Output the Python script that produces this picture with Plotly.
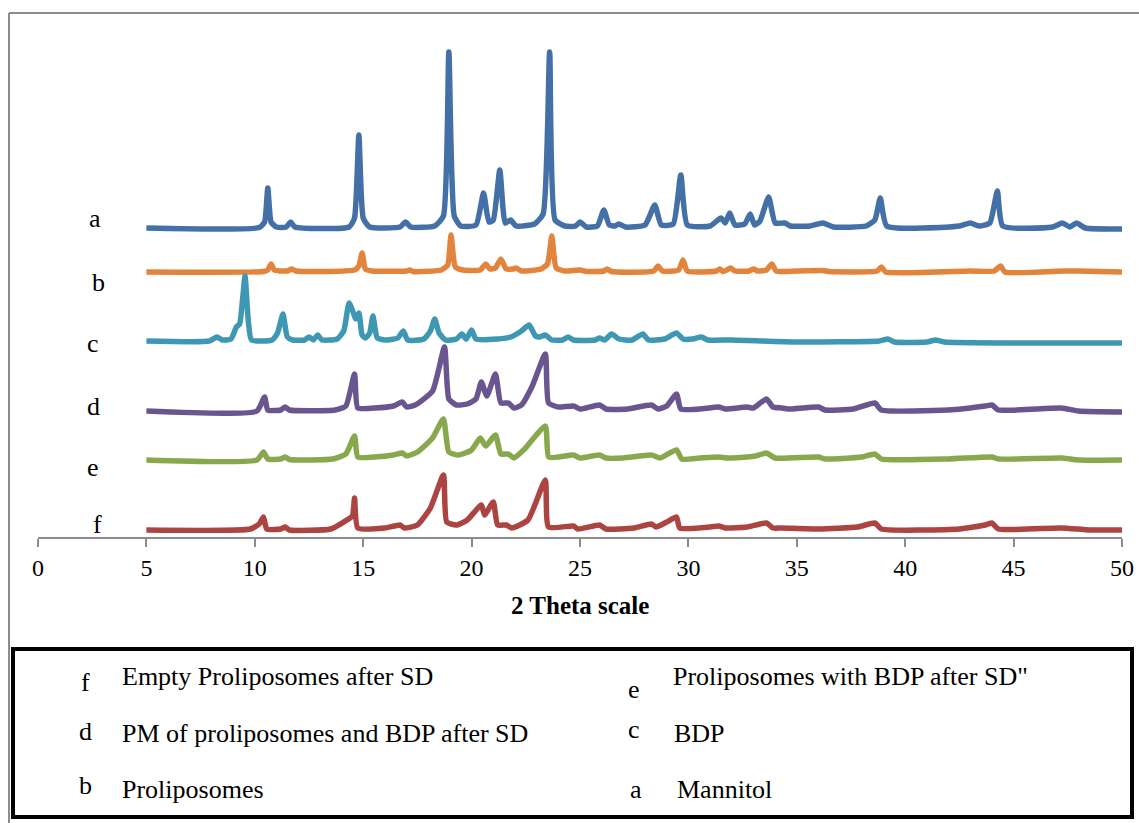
import plotly.graph_objects as go

# ---- XRD patterns: 2-theta positions and relative intensities ----
a_x = [5.0, 10.2, 10.45, 10.6, 10.75, 11.0, 11.45, 11.65, 11.85, 14.35, 14.6, 14.8, 15.0, 15.3, 16.7, 16.95, 17.2,
       18.3, 18.7, 18.95, 19.2, 19.5, 20.2, 20.55, 20.8, 21.0, 21.3, 21.55, 21.8, 22.05, 22.9, 23.3, 23.6, 23.85,
       24.3, 24.8, 25.0, 25.3, 25.8, 26.1, 26.35, 26.6, 26.8, 27.1, 28.0, 28.45, 28.75, 29.3, 29.65, 29.95, 31.0,
       31.5, 31.7, 31.9, 32.15, 32.6, 32.85, 33.05, 33.3, 33.7, 34.0, 34.45, 34.7, 35.6, 36.2, 36.7, 38.2, 38.6,
       38.85, 39.15, 42.5, 43.0, 43.4, 43.9, 44.25, 44.5, 46.8, 47.25, 47.6, 47.9, 48.3, 50.0]
a_y = [0, 0.5, 6, 40, 6, 1, 1, 6, 1, 1, 10, 93, 10, 1, 1, 6, 1,
       2, 12, 176, 12, 2, 3, 35, 6, 8, 58, 5, 8, 2, 4, 14, 176, 8,
       2, 2, 6, 1, 2, 18, 3, 2, 4, 1, 3, 23, 3, 4, 53, 3, 2,
       10, 5, 15, 3, 4, 14, 3, 7, 31, 5, 5, 2, 2, 5, 1, 2, 8,
       30, 2, 2, 5, 2, 5, 37, 2, 1, 5, 1, 5, 0, -1]

b_x = [5.0, 10.4, 10.6, 10.75, 10.9, 11.5, 11.7, 11.9, 14.6, 14.8, 14.95, 15.1, 15.4, 17.0, 17.15, 17.3, 18.6, 18.9,
       19.05, 19.25, 19.6, 20.4, 20.65, 20.85, 21.1, 21.35, 21.6, 21.9, 22.05, 22.3, 23.2, 23.5, 23.7, 23.9, 24.3,
       25.0, 25.3, 26.1, 26.25, 26.45, 28.4, 28.6, 28.8, 29.55, 29.75, 29.95, 31.3, 31.45, 31.6, 31.95, 32.15, 32.8,
       33.0, 33.2, 33.6, 33.85, 34.05, 35.0, 36.2, 36.5, 38.7, 38.9, 39.1, 43.0, 44.1, 44.4, 44.6, 47.3, 48.0, 50.0]
b_y = [0, 0.5, 2, 8, 2, 1, 3, 1, 2, 6, 19, 3, 1, 1, 2, 0.5, 2, 7,
       37, 5, 2, 2, 8, 3, 4, 13, 3, 3, 4, 1, 3, 8, 36, 4, 1,
       2, 0.5, 1, 3, 0.5, 1, 6, 1, 2, 12, 1, 1, 3, 0.5, 4, 1, 1,
       3, 1, 2, 8, 1, 1, 1.5, 0.5, 1, 5, 0, 1, 1, 6, 0, 1, 1, 0]

c_x = [5.0, 7.9, 8.25, 8.5, 8.9, 9.15, 9.3, 9.45, 9.55, 9.7, 9.85, 10.8, 11.05, 11.3, 11.5, 11.75, 12.3, 12.5,
       12.7, 12.9, 13.1, 13.8, 14.1, 14.35, 14.55, 14.65, 14.8, 14.95, 15.1, 15.3, 15.45, 15.65, 16.1, 16.6,
       16.85, 17.05, 17.8, 18.1, 18.3, 18.5, 18.8, 19.3, 19.55, 19.75, 20.0, 20.2, 21.2, 21.8, 22.3, 22.65,
       22.95, 23.15, 23.4, 23.7, 24.2, 24.45, 24.7, 25.7, 25.9, 26.15, 26.45, 26.8, 27.4, 27.9, 28.15, 28.9,
       29.45, 29.75, 30.2, 30.6, 30.9, 32.0, 35.0, 38.8, 39.2, 39.5, 41.0, 41.4, 41.8, 45.0, 50.0]
c_y = [0, 0, 4, 1, 2, 14, 17, 45, 65, 20, 1, 1, 8, 27, 4, 1, 1, 4,
       1, 6, 1, 2, 10, 38, 28, 22, 28, 6, 3, 8, 25, 3, 1, 3,
       10, 1, 2, 10, 22, 8, 1, 2, 7, 2, 11, 2, 2, 4, 10, 16,
       5, 4, 6, 1, 1, 4, 1, 1, 3, 1, 7, 2, 1, 7, 1, 2,
       8, 2, 2, 4, 1, 1, -1, 0, 2, -1, -1, 1, -1, -2, -2]

d_x = [5.0, 10.1, 10.45, 10.6, 11.2, 11.4, 11.6, 13.7, 14.2, 14.6, 14.75, 15.5, 16.4, 16.8, 17.0, 17.4, 18.2,
       18.75, 18.95, 19.3, 19.8, 20.2, 20.45, 20.7, 21.1, 21.35, 21.7, 21.95, 22.3, 22.8, 23.4, 23.55, 24.0,
       24.7, 25.0, 25.9, 26.2, 27.2, 28.3, 28.6, 29.0, 29.45, 29.65, 30.5, 31.4, 31.7, 32.7, 33.0, 33.6, 33.9,
       34.3, 34.6, 36.0, 36.3, 37.6, 38.6, 38.9, 42.0, 43.7, 44.0, 44.3, 47.2, 48.0, 50.0]
d_y = [0, 0, 14, 1, 1, 4, 1, 1, 5, 37, 3, 3, 5, 9, 4, 6, 20,
       64, 12, 6, 7, 12, 29, 15, 37, 8, 8, 3, 6, 25, 57, 8, 4,
       5, 2, 6, 2, 2, 6, 2, 5, 17, 2, 2, 4, 2, 4, 3, 12, 4,
       3, 2, 4, 1, 2, 8, 1, 1, 5, 6, 1, 3, 0, -1]

e_x = [5.0, 10.1, 10.4, 10.6, 11.2, 11.4, 11.6, 13.6, 14.2, 14.6, 14.75, 15.5, 16.4, 16.8, 17.0, 17.5, 18.2,
       18.7, 18.95, 19.4, 20.0, 20.4, 20.65, 21.1, 21.35, 21.7, 21.95, 22.4, 23.4, 23.55, 24.0, 24.7, 25.0,
       25.9, 26.2, 27.0, 28.3, 28.7, 29.45, 29.7, 30.5, 31.4, 31.8, 32.7, 33.1, 33.6, 34.0, 36.0, 36.3, 38.0,
       38.6, 38.9, 42.0, 44.0, 44.3, 47.2, 48.0, 50.0]
e_y = [0, 0, 8, 1, 1, 3, 0.5, 1, 6, 24, 3, 3, 5, 7, 4, 8, 22,
       41, 8, 5, 10, 22, 14, 25, 6, 6, 2, 10, 34, 3, 3, 5, 2,
       5, 2, 2, 5, 2, 10, 1, 2, 3, 2, 3, 4, 7, 2, 3, 1, 3,
       6, 1, 1, 3, 1, 2, 0, 0]

f_x = [5.0, 9.8, 10.2, 10.4, 10.55, 11.2, 11.4, 11.6, 13.5, 14.1, 14.5, 14.6, 14.75, 16.0, 16.7, 16.9, 17.5,
       18.1, 18.7, 18.85, 19.3, 19.8, 20.45, 20.6, 21.0, 21.2, 21.6, 21.85, 22.6, 23.4, 23.55, 24.7, 24.9,
       25.9, 26.2, 27.5, 28.3, 28.5, 29.0, 29.45, 29.6, 31.0, 31.4, 31.7, 32.7, 33.6, 33.9, 34.3, 36.0, 37.8,
       38.6, 38.9, 42.5, 43.7, 44.0, 44.3, 47.2, 48.5, 50.0]
f_y = [0, 1, 6, 13, 1, 1, 3, 0, 1, 8, 14, 32, 2, 2, 5, 2, 5,
       22, 55, 8, 5, 10, 25, 15, 28, 5, 5, 2, 10, 50, 3, 4, 1,
       5, 1, 2, 6, 3, 8, 13, 2, 3, 4, 2, 3, 7, 2, 2, 1, 3,
       7, 1, 1, 5, 7, 1, 2, 0, 0]

letters = ["a", "b", "c", "d", "e", "f"]
samples = ["Mannitol", "Proliposomes", "BDP", "PM of proliposomes and BDP after SD",
           "Proliposomes with BDP after SD\"", "Empty Proliposomes after SD"]
xs = [a_x, b_x, c_x, d_x, e_x, f_x]
ys = [a_y, b_y, c_y, d_y, e_y, f_y]
# vertical stacking offset of each pattern
offsets = [309, 265, 196, 126, 77, 7]
colors = ["#4470A8", "#E3843C", "#3F98B3", "#6B5591", "#89A84D", "#AC4442"]

tick_vals = list(range(0, 51, 5))

W, H = 1139, 823
L, R, T, B = 38, 17, 20, 286
PW, PH = W - L - R, H - T - B


def px(x):
    return (x - L) / PW


def py(y):
    return (H - B - y) / PH


fig = go.Figure()
for lt, nm, x, y, off, col in zip(letters, samples, xs, ys, offsets, colors):
    fig.add_trace(go.Scatter(x=x, y=[v + off for v in y], mode="lines", name=nm,
                             line=dict(color=col, width=5.5, shape="spline", smoothing=0.5),
                             showlegend=False))

serif = "Liberation Serif, Times New Roman, serif"
annotations = []
# trace letters on the left
letter_pos = [(95, 218), (98, 282), (93, 343), (93, 406), (93, 467), (97, 524)]
for lt, (lx, ly) in zip(letters, letter_pos):
    annotations.append(dict(x=px(lx), y=py(ly), xref="paper", yref="paper", text=lt, showarrow=False,
                            font=dict(family=serif, size=26, color="black"), xanchor="center", yanchor="middle"))

# key box entries: (letter, letter position, text left, text y)
key_rows = [
    ("f", (85, 683), (120, 676)),
    ("e", (634, 689), (671, 676)),
    ("d", (85, 731), (120, 733)),
    ("c", (634, 729), (672, 733)),
    ("b", (85, 785), (120, 789)),
    ("a", (636, 789), (675, 789)),
]
for lt, (lx, ly), (tx, ty) in key_rows:
    nm = samples[letters.index(lt)]
    annotations.append(dict(x=px(lx), y=py(ly), xref="paper", yref="paper", text=lt, showarrow=False,
                            font=dict(family=serif, size=26, color="black"), xanchor="center", yanchor="middle"))
    annotations.append(dict(x=px(tx), y=py(ty), xref="paper", yref="paper", text=nm, showarrow=False,
                            font=dict(family=serif, size=26, color="black"), xanchor="left", yanchor="middle"))

annotations.append(dict(x=px(580), y=py(605), xref="paper", yref="paper", text="<b>2 Theta scale</b>",
                        showarrow=False, font=dict(family=serif, size=25, color="black"),
                        xanchor="center", yanchor="middle"))

shapes = [
    # outer frame
    dict(type="line", xref="paper", yref="paper", x0=px(9), x1=px(9), y0=py(13), y1=py(823),
         line=dict(color="#8C8C8C", width=2)),
    dict(type="line", xref="paper", yref="paper", x0=px(9), x1=px(1139), y0=py(13), y1=py(13),
         line=dict(color="#8C8C8C", width=2)),
    # key box
    dict(type="rect", xref="paper", yref="paper", x0=px(13), x1=px(1132), y0=py(649), y1=py(817),
         line=dict(color="black", width=4), fillcolor="rgba(0,0,0,0)"),
]

fig.update_layout(
    width=W, height=H,
    margin=dict(l=L, r=R, t=T, b=B, autoexpand=False),
    paper_bgcolor="white", plot_bgcolor="white",
    xaxis=dict(range=[0, 50], tickvals=tick_vals, ticktext=[str(v) for v in tick_vals], automargin=False,
               showgrid=False, zeroline=False, showline=True, linecolor="#8C8C8C", linewidth=2,
               ticks="outside", ticklen=8, tickwidth=2, tickcolor="#8C8C8C",
               tickfont=dict(family=serif, size=24, color="black")),
    yaxis=dict(range=[0, PH], visible=False, fixedrange=True, automargin=False),
    annotations=annotations,
    shapes=shapes,
)

fig.write_html("out.html")
